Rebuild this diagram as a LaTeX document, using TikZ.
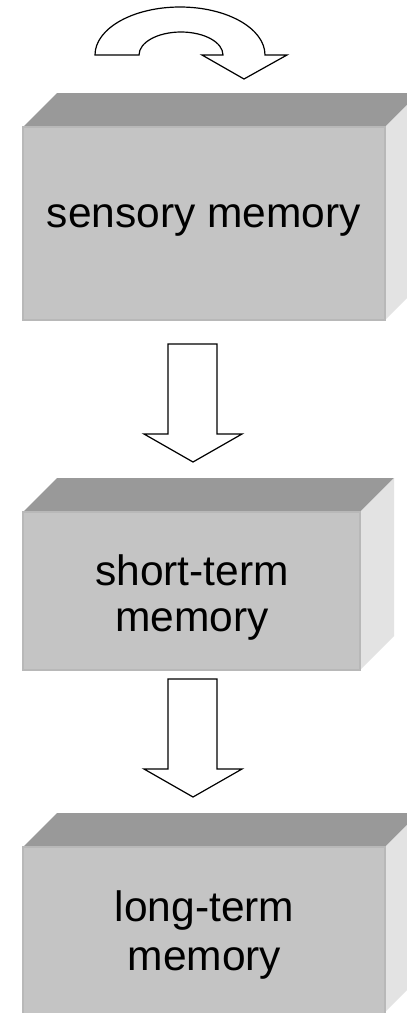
\documentclass[tikz,border=0pt]{standalone}
\usepackage{fontspec}
\setmainfont{Liberation Sans}
\definecolor{topc}{HTML}{999999}
\definecolor{frontc}{HTML}{C4C4C4}
\definecolor{sidec}{HTML}{E3E3E3}
\definecolor{edgec}{HTML}{B8B8B8}
\tikzset{
  frontface/.style={fill=frontc, draw=edgec, line width=1.2pt, inner sep=0pt, outer sep=0pt, anchor=north west},
  topface/.style={fill=topc},
  sideface/.style={fill=sidec},
  lbl/.style={font=\fontsize{42.5}{47}\selectfont, anchor=base, inner sep=0pt},
  blockarrow/.style={draw=black, line width=1.2pt, fill=white, line join=miter},
}
\begin{document}
\begin{tikzpicture}[x=1pt,y=1pt]
\clip (0,0) rectangle (407,-1013);
\fill[white] (0,0) rectangle (407,-1013);
% curved arrow
\draw[blockarrow] (95,-55) arc[start angle=180,end angle=0,x radius=85,y radius=48]
  -- (287,-55) -- (244,-79) -- (202,-55) -- (223,-55)
  arc[start angle=0,end angle=180,x radius=42,y radius=23] -- cycle;
% box 1
\fill[topface] (23,-127) -- (57,-93) -- (419,-93) -- (385,-127) -- cycle;
\fill[sideface] (385,-127) -- (419,-93) -- (419,-286) -- (385,-320) -- cycle;
\node[frontface, minimum width=362pt, minimum height=193pt] (s1) at (23,-127) {};
\node[lbl] (t1) at (204,-227) {sensory memory};
% arrow 1
\draw[blockarrow] (168,-344) -- (217,-344) -- (217,-434) -- (242,-434) -- (193,-462) -- (144,-434) -- (168,-434) -- cycle;
% box 2
\fill[topface] (23,-512) -- (57,-478) -- (394,-478) -- (360,-512) -- cycle;
\fill[sideface] (360,-512) -- (394,-478) -- (394,-636) -- (360,-670) -- cycle;
\node[frontface, minimum width=337pt, minimum height=158pt] (s2) at (23,-512) {};
\node[lbl] (t2a) at (192,-585.5) {short-term};
\node[lbl] (t2b) at (192,-631.5) {memory};
% arrow 2
\draw[blockarrow] (168,-679) -- (217,-679) -- (217,-769) -- (242,-769) -- (193,-797) -- (144,-769) -- (168,-769) -- cycle;
% box 3
\fill[topface] (23,-847) -- (57,-813) -- (419,-813) -- (385,-847) -- cycle;
\fill[sideface] (385,-847) -- (419,-813) -- (419,-978) -- (385,-1012) -- cycle;
\node[frontface, minimum width=362pt, minimum height=170pt] (s3) at (23,-847) {};
\node[lbl] (t3a) at (204.5,-921.5) {long-term};
\node[lbl] (t3b) at (204.5,-970.5) {memory};
\end{tikzpicture}
\end{document}
